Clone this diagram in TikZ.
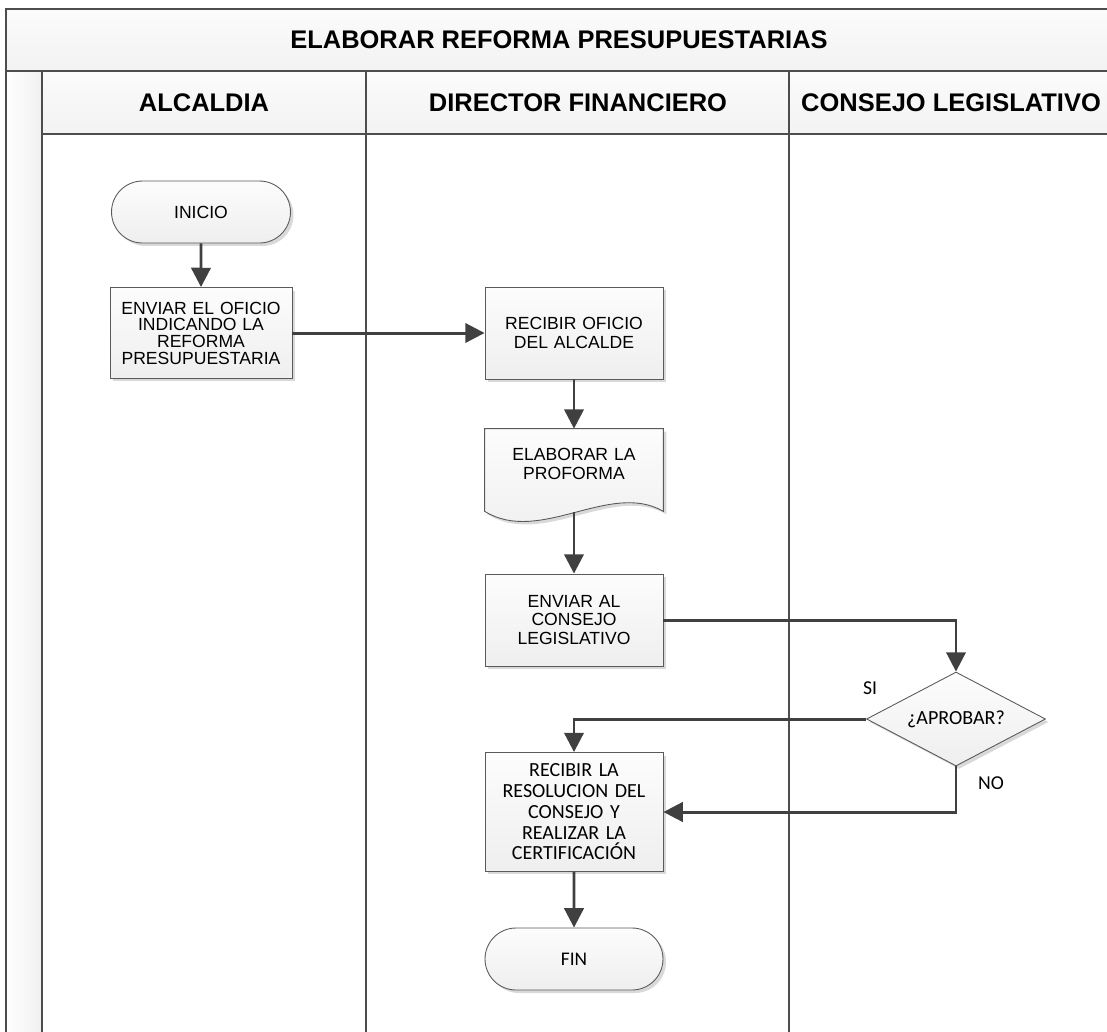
\documentclass[tikz,border=0pt]{standalone}
\usepackage{fontspec}
\setmainfont{Liberation Sans}
\newfontfamily\calibri{Carlito}
\usetikzlibrary{shapes.geometric,shapes.misc,shadows,arrows.meta,backgrounds,calc}

\definecolor{framegray}{HTML}{4D4D4D}
\definecolor{linegray}{HTML}{404040}
\definecolor{boxgray}{HTML}{5A5A5A}

\tikzset{
  lane/.style={draw=framegray, line width=1.4pt},
  headtext/.style={font=\bfseries\fontsize{14.5}{16}\selectfont},
  boxshadow/.style={drop shadow={shadow xshift=0.06cm, shadow yshift=-0.06cm, fill=gray, opacity=0.3}},
  boxfill/.style={draw=boxgray, line width=0.5pt, top color=gray!2, bottom color=gray!13},
  proc/.style={rectangle, boxfill, boxshadow, inner sep=0pt, align=center,
    minimum width=3.56cm, minimum height=1.84cm, text width=3.5cm,
    font=\fontsize{10}{10.6}\selectfont},
  term/.style={rounded rectangle, boxfill, boxshadow, inner sep=0pt,
    minimum width=3.58cm, minimum height=1.24cm, font=\fontsize{10}{11}\selectfont},
  docu/.style={rectangle, inner sep=0pt, align=center, text width=3.5cm,
    minimum width=3.56cm, minimum height=1.4cm, font=\fontsize{10}{11.2}\selectfont},
  decision/.style={diamond, boxfill, boxshadow, inner sep=0pt, aspect=1.9,
    minimum width=3.58cm, minimum height=1.88cm, font=\calibri\fontsize{11.4}{12}\selectfont},
  flow/.style={draw=linegray, line width=1.7pt, -{Triangle[width=11pt,length=11pt]}},
  branch/.style={font=\calibri\fontsize{11.2}{12}\selectfont}
}

\begin{document}
\begin{tikzpicture}[x=0.02cm, y=-0.02cm]
  \useasboundingbox (0,0) rectangle (1107,1032);
  \clip (0,0) rectangle (1107,1032);

  % pool and lanes
  \shade[top color=gray!3, bottom color=gray!10] (6,9) rectangle (1113,71);
  \shade[top color=gray!3, bottom color=gray!10] (42,71) rectangle (1113,134);
  \shade[left color=white, right color=gray!12] (6,71) rectangle (42,1040);
  \draw[lane] (1113,9) -- (6,9) -- (6,1040);
  \draw[lane] (6,71) -- (1113,71);
  \draw[lane] (42,134) -- (1113,134);
  \foreach \x in {42,366,789}
    \draw[lane] (\x,71) -- (\x,1040);

  \node[headtext] (titulo) at (559,40) {ELABORAR REFORMA PRESUPUESTARIAS};
  \node[headtext] (alcaldia) at (204,103) {ALCALDIA};
  \node[headtext] (director) at (578,103) {DIRECTOR FINANCIERO};
  \node[headtext] (consejo) at (951,103) {CONSEJO LEGISLATIVO};

  % steps
  \node[term] (inicio) at (201,212) {INICIO};
  \node[proc, minimum width=3.64cm, minimum height=1.82cm, font=\fontsize{10}{9.5}\selectfont] (oficio) at (201,333)
    {ENVIAR EL OFICIO\\INDICANDO LA\\REFORMA\\PRESUPUESTARIA};
  \node[proc] (recibir) at (574,333) {RECIBIR OFICIO\\DEL ALCALDE};
  \node[docu] (proforma) at (574,464) {ELABORAR LA\\PROFORMA};
  \node[proc] (enviar) at (574,620) {ENVIAR AL\\CONSEJO\\LEGISLATIVO};
  \node[decision] (aprobar) at (956,719) {¿APROBAR?};
  \node[proc, minimum height=2.38cm, font=\calibri\fontsize{11.4}{11.8}\selectfont] (resolucion) at (574,812)
    {RECIBIR LA\\RESOLUCION DEL\\CONSEJO Y\\REALIZAR LA\\CERTIFICACIÓN};
  \node[term, minimum width=3.56cm, font=\calibri\fontsize{11}{12}\selectfont] (fin) at (574,959) {FIN};

  % document outline with wavy bottom
  \begin{pgfonlayer}{background}
    \path[boxfill, boxshadow] (proforma.north west) -- (proforma.north east)
      -- ($(proforma.south east)+(0,12)$)
      .. controls ($(proforma.south)+(36,-19)$) and ($(proforma.south)+(-34,46)$)
      .. ($(proforma.south west)+(0,12)$) -- cycle;
  \end{pgfonlayer}
  \coordinate (proforma-tail) at ($(proforma.south)+(0,13)$);

  \node[branch] (si) at (870,688) {SI};
  \node[branch] (no) at (991,783) {NO};

  % connectors
  \draw[flow] (inicio) -- (oficio);
  \draw[flow] (oficio) -- (recibir);
  \draw[flow] (recibir) -- (proforma);
  \draw[flow] (proforma-tail) -- (enviar);
  \draw[flow] (enviar) -| (aprobar);
  \draw[flow] (aprobar) -| (resolucion);
  \draw[flow] (aprobar) |- (resolucion);
  \draw[flow] (resolucion) -- (fin);
\end{tikzpicture}
\end{document}
